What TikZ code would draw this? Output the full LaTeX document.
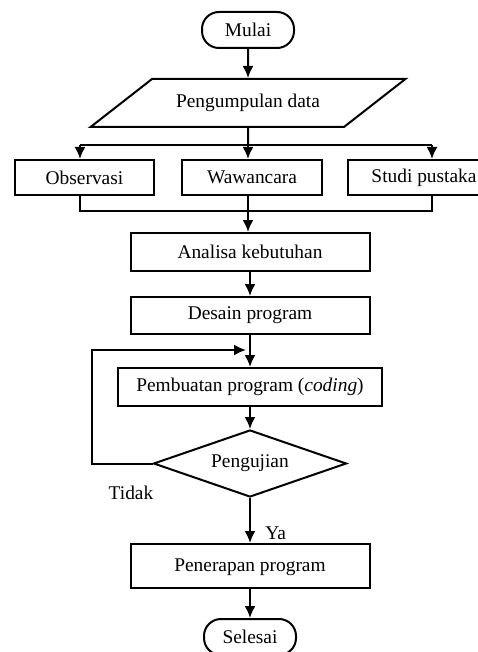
\documentclass[tikz,border=0pt]{standalone}
\usepackage{fontspec}
\setmainfont{Liberation Serif}
\usetikzlibrary{arrows.meta, shapes.geometric}

\tikzset{
    terminal/.style={draw, line width=1pt, rounded corners=8.5pt, minimum width=46pt, minimum height=18pt},
    prosesbox/.style={draw, line width=1pt, minimum width=119.5pt, minimum height=19pt},
    datain/.style={draw, line width=1pt, trapezium, trapezium left angle=31.6, trapezium right angle=148.4,
        trapezium stretches=true, minimum width=157.5pt, minimum height=24pt},
    keputusan/.style={draw, line width=1pt, diamond, aspect=2.88, minimum width=96.5pt, minimum height=33.5pt, inner sep=0pt},
    arr/.style={-{Latex[length=6pt, width=5.5pt]}, line width=1pt},
    garis/.style={line width=1pt}
}

\begin{document}
\begin{tikzpicture}[x=0.5pt, y=-0.5pt, font=\fontsize{9.7}{11}\selectfont]
\useasboundingbox (0,0) rectangle (477,652);

% Awal dan pengumpulan data
\node[terminal] (mulai) at (248,30) {Mulai};
\node[datain] (data) at (248,103) {Pengumpulan data};

% Tiga cara pengumpulan data
\node[prosesbox, minimum width=69.5pt, minimum height=17.5pt] (obs) at (84.5,177.5) {Observasi};
\node[prosesbox, minimum width=70pt, minimum height=17.5pt] (waw) at (252,177.5) {Wawancara};
\node[prosesbox, minimum width=76pt, minimum height=17.5pt] (studi) at (424,177.5) {Studi pustaka};

\coordinate (split) at (248,145);
\coordinate (sl) at (80,145);
\coordinate (sr) at (432,145);
\coordinate (jl) at (80,211);
\coordinate (jr) at (432,211);

% Tahap pengembangan
\node[prosesbox] (analisa) at (250,252) {Analisa kebutuhan};
\node[prosesbox, minimum height=18.5pt] (desain) at (250,315.5) {Desain program};
\node[prosesbox, minimum width=132pt] (buat) at (250,387) {Pembuatan program (\textit{coding})};
\node[keputusan] (uji) at (250,463.5) {Pengujian};
\node[prosesbox, minimum height=22pt] (terap) at (250,566) {Penerapan program\vphantom{\rule{0pt}{8pt}}};
\node[terminal] (selesai) at (250,637) {Selesai};

\coordinate (masuk) at (246,350);
\coordinate (kiri) at (92,463.5);

% Penghubung
\draw[arr] (mulai) -- (data);
\draw[garis] (data.south) -- (split);
\draw[garis] (sl) -- (sr);
\draw[arr] (sl) -- (sl |- obs.north);
\draw[arr] (split) -- (split |- waw.north);
\draw[arr] (sr) -- (sr |- studi.north);
\draw[garis] (sl |- obs.south) -- (jl) -- (jr) -- (sr |- studi.south);
\draw[arr] (split |- waw.south) -- (split |- analisa.north);
\draw[arr] (analisa) -- (desain);
\draw[arr] (desain) -- (buat);
\draw[arr] (buat) -- (uji);
\draw[arr] (uji.west) -- (kiri) |- (masuk);
\draw[arr] (uji) -- (terap);
\draw[arr] (terap) -- (selesai);

% Label keputusan
\node (tidak) at (131,493) {Tidak};
\node[anchor=west, inner sep=1pt] (ya) at (263,533) {Ya};
\end{tikzpicture}
\end{document}
